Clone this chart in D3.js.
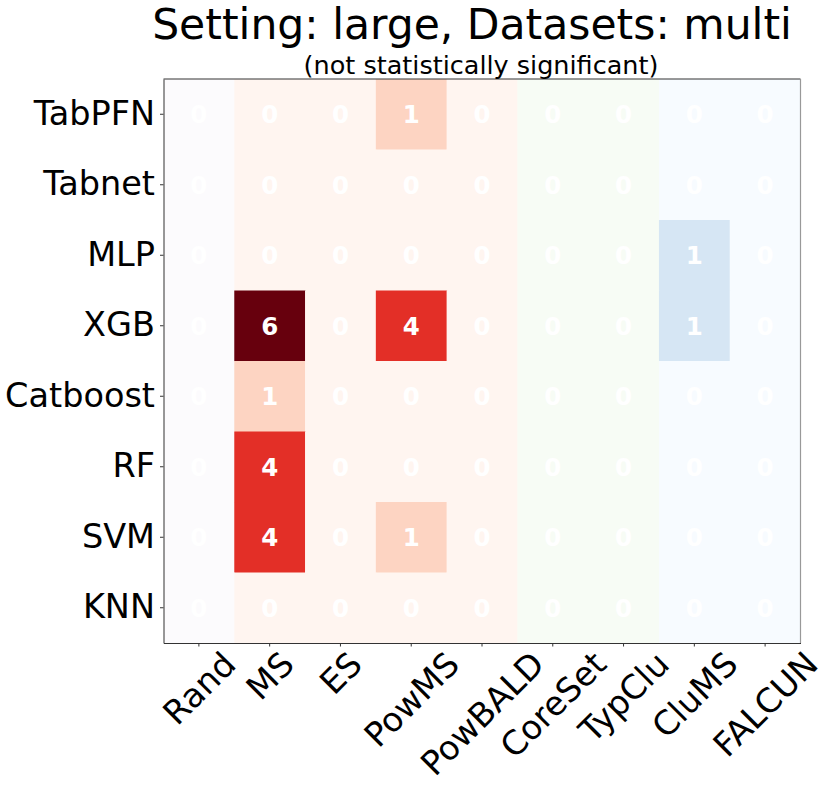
<!DOCTYPE html>
<meta charset="utf-8">
<script src="https://cdn.jsdelivr.net/npm/d3@7"></script>
<style>
body { margin: 0; background: #fff; }
text { font-family: "DejaVu Sans", sans-serif; }
</style>
<body>
<script>

// row / column labels
var models = ["TabPFN", "Tabnet", "MLP", "XGB", "Catboost", "RF", "SVM", "KNN"];
var strategies = ["Rand", "MS", "ES", "PowMS", "PowBALD", "CoreSet", "TypClu", "CluMS", "FALCUN"];

// colour family used for each strategy column
var strategyCmap = ["Purples", "Reds", "Reds", "Reds", "Reds", "Greens", "Greens", "Blues", "Blues"];

// number of wins, one row per model (same order as models)
var countsTabPFN   = [0, 0, 0, 1, 0, 0, 0, 0, 0];
var countsTabnet   = [0, 0, 0, 0, 0, 0, 0, 0, 0];
var countsMLP      = [0, 0, 0, 0, 0, 0, 0, 1, 0];
var countsXGB      = [0, 6, 0, 4, 0, 0, 0, 1, 0];
var countsCatboost = [0, 1, 0, 0, 0, 0, 0, 0, 0];
var countsRF       = [0, 4, 0, 0, 0, 0, 0, 0, 0];
var countsSVM      = [0, 4, 0, 1, 0, 0, 0, 0, 0];
var countsKNN      = [0, 0, 0, 0, 0, 0, 0, 0, 0];

var counts = [countsTabPFN, countsTabnet, countsMLP, countsXGB,
              countsCatboost, countsRF, countsSVM, countsKNN];

var vmax = 6;

var W = 830, H = 790;
var margin = {top: 79, right: 30, bottom: 147, left: 163.5};
var width = 800.5 - margin.left,
    height = 643 - margin.top;
var tickFont = 33.5;

var svg = d3.select("body").append("svg")
    .attr("width", W)
    .attr("height", H);

var g = svg.append("g")
    .attr("transform", "translate(" + margin.left + "," + margin.top + ")");

var x = d3.scaleBand().domain(strategies).range([0, width]);
var y = d3.scaleBand().domain(models).range([0, height]);

// matplotlib-like linear colormaps built from the 9-step brewer schemes
function cmap(name) {
  var colors = d3["scheme" + name][9];
  return d3.scaleLinear()
      .domain(d3.range(9).map(function(i) { return i / 8 * vmax; }))
      .range(colors)
      .interpolate(d3.interpolateRgb)
      .clamp(true);
}
var scales = {};
strategyCmap.forEach(function(n) { if (!scales[n]) scales[n] = cmap(n); });

var cells = [];
counts.forEach(function(row, i) {
  row.forEach(function(v, j) {
    cells.push({model: models[i], strategy: strategies[j], cm: strategyCmap[j], value: v});
  });
});

g.selectAll(".cell")
    .data(cells)
  .enter().append("rect")
    .attr("class", "cell")
    .attr("x", function(d) { return x(d.strategy); })
    .attr("y", function(d) { return y(d.model); })
    .attr("width", x.bandwidth() + 0.5)
    .attr("height", y.bandwidth() + 0.5)
    .attr("fill", function(d) { return scales[d.cm](d.value); });

g.selectAll(".annot")
    .data(cells)
  .enter().append("text")
    .attr("class", "annot")
    .attr("x", function(d) { return x(d.strategy) + x.bandwidth() / 2; })
    .attr("y", function(d) { return y(d.model) + y.bandwidth() / 2; })
    .attr("text-anchor", "middle")
    .attr("dy", "0.36em")
    .style("font-size", "24.5px")
    .style("font-weight", "bold")
    .style("fill", "#fff")
    .text(function(d) { return d.value; });

// spines
g.append("line").attr("x1", 0).attr("x2", width).attr("y1", 0).attr("y2", 0)
    .attr("stroke", "#333").attr("stroke-width", 1);
g.append("line").attr("x1", width).attr("x2", width).attr("y1", 0).attr("y2", height)
    .attr("stroke", "#999").attr("stroke-width", 1.2);

// Y axis
var yAxis = g.append("g")
    .call(d3.axisLeft(y).tickSize(3.5).tickSizeOuter(0).tickPadding(5));
yAxis.select(".domain").attr("stroke", "#333");
yAxis.selectAll(".tick line").attr("stroke", "#333");
yAxis.selectAll("text")
    .style("font-size", tickFont + "px")
    .style("fill", "#000");

// X axis
var xAxis = g.append("g")
    .attr("transform", "translate(0," + height + ")")
    .call(d3.axisBottom(x).tickSize(3.5).tickSizeOuter(0));
xAxis.select(".domain").attr("stroke", "#333");
xAxis.selectAll(".tick line").attr("stroke", "#333");

// rotated labels (45 deg), ink box centred under the tick, top at y=650
var labTop = 650 - margin.top - height;
xAxis.selectAll(".tick text")
    .style("font-size", tickFont + "px")
    .style("fill", "#000")
    .attr("text-anchor", "middle")
    .attr("dy", "0.365em")
    .each(function() {
      var w = this.getComputedTextLength() - 0.08 * tickFont;
      var h = 0.73 * tickFont;
      var cy = labTop + (w + h) / (2 * Math.SQRT2);
      d3.select(this)
          .attr("y", cy)
          .attr("x", 0)
          .attr("transform", "rotate(-45,0," + cy + ")");
    });

// titles
svg.append("text")
    .attr("x", 472)
    .attr("y", 39)
    .attr("text-anchor", "middle")
    .style("font-size", "42.5px")
    .text("Setting: large, Datasets: multi");

svg.append("text")
    .attr("x", 481)
    .attr("y", 74)
    .attr("text-anchor", "middle")
    .style("font-size", "25.5px")
    .text("(not statistically significant)");

</script>
</body>
